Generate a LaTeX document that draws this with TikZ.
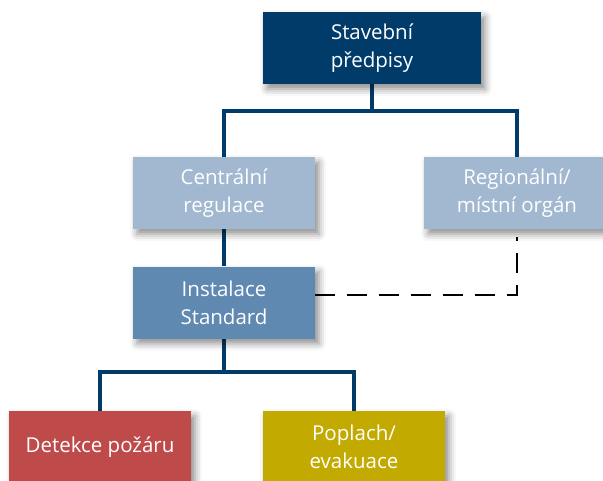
\documentclass[tikz,border=0pt]{standalone}
\usepackage{fontspec}
\setmainfont{Open Sans}
\usetikzlibrary{shadows.blur,backgrounds}
\definecolor{navy}{RGB}{0,59,106}
\definecolor{paleblue}{RGB}{162,184,208}
\definecolor{midblue}{RGB}{96,137,177}
\definecolor{firered}{RGB}{190,74,74}
\definecolor{mustard}{RGB}{194,170,0}
\tikzset{
  box/.style={rectangle, minimum width=182pt, minimum height=72pt, inner sep=0pt,
    text=white, align=center, font=\fontsize{20.5}{28}\selectfont,
    blur shadow={shadow xshift=4pt, shadow yshift=-5pt, shadow blur radius=7pt, shadow opacity=45}},
  conn/.style={draw=navy, line width=4pt},
  link/.style={draw=black, line width=1.8pt, dash pattern=on 20pt off 12pt}
}
\begin{document}
\begin{tikzpicture}[x=1pt, y=-1pt]
  \useasboundingbox (0,0) rectangle (603,480);
  \clip (0,0) rectangle (603,480);
  \node[box, fill=navy, minimum width=218pt] (top) at (372,48) {Stavební\\předpisy};
  \node[box, fill=paleblue] (central) at (224,193) {Centrální\\regulace};
  \node[box, fill=paleblue, minimum width=186pt] (regional) at (517,193) {Regionální/\\místní orgán};
  \node[box, fill=midblue] (install) at (224,302.5) {Instalace\\Standard};
  \node[box, fill=firered] (detect) at (100,447) {Detekce požáru};
  \node[box, fill=mustard] (alarm) at (354,447) {Poplach/\\evakuace};
  \begin{pgfonlayer}{background}
    \draw[conn] (top.south) -- ++(0,27) coordinate (j1);
    \draw[conn] (central.north) |- (j1) -| (regional.north);
    \draw[conn] (central.south) -- (install.north);
    \draw[conn] (install.south) -- ++(0,33) coordinate (j2);
    \draw[conn] (detect.north) |- (j2) -| (alarm.north);
  \end{pgfonlayer}
  \coordinate (rtail) at (517,237);
  \draw[link] (install.east |- 0,295) -| (rtail);
\end{tikzpicture}
\end{document}
